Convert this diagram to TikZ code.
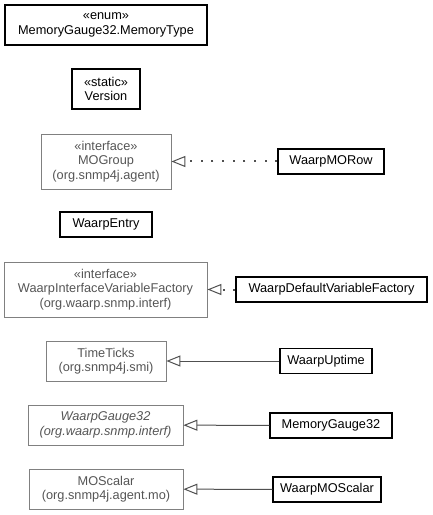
\documentclass[tikz,border=0pt]{standalone}
\usepackage{fontspec}
\setmainfont{Liberation Sans}
\usepackage{xcolor}
\usepackage{tikz}
\usetikzlibrary{arrows.meta,positioning}

\definecolor{extgray}{HTML}{808080}
\definecolor{exttext}{HTML}{555555}
\definecolor{arrgray}{HTML}{505050}

\begin{document}
\begin{tikzpicture}[
  x=1bp, y=-1bp,
  every node/.style={font=\fontsize{12.8}{14.5}\selectfont},
  cls/.style    ={draw=black, line width=1.1bp, inner sep=0pt,
                  align=center, minimum height=25bp},
  ext/.style    ={draw=extgray, line width=0.8bp, inner sep=0pt, text=exttext,
                  align=center, minimum height=40bp},
  impl/.style   ={-{Triangle[open, length=14bp, width=11bp, line width=1bp, sep=0pt]},
                  draw=arrgray, line width=2bp, dash pattern=on 2bp off 8.7bp},
  inh/.style    ={-{Triangle[open, length=14bp, width=11bp, sep=0pt]},
                  draw=arrgray, line width=1bp},
]
  \useasboundingbox (0,0) rectangle (432,515);

  \node[cls, minimum width=202bp, minimum height=40bp] (mtype) at (106,25)
        {«enum»\\MemoryGauge32.MemoryType};
  \node[cls, minimum width=68bp, minimum height=40bp]  (ver)   at (106,89)
        {«static»\\Version};
  \node[ext, minimum width=130bp, minimum height=55bp] (mogrp) at (106,161.5)
        {«interface»\\MOGroup\\(org.snmp4j.agent)};
  \node[cls, minimum width=106bp] (morow)  at (331,161.5) {WaarpMORow};
  \node[cls, minimum width=92bp]  (entry)  at (106,224.5) {WaarpEntry};
  \node[ext, minimum width=203bp, minimum height=55bp] (ifact) at (105.5,289.5)
        {«interface»\\WaarpInterfaceVariableFactory\\(org.waarp.snmp.interf)};
  \node[cls, minimum width=191bp] (dfact)  at (331.5,289.5) {WaarpDefaultVariableFactory};
  \node[ext, minimum width=120bp] (tticks) at (106,361)
        {TimeTicks\\(org.snmp4j.smi)};
  \node[cls, minimum width=92bp]  (uptime) at (326,361) {WaarpUptime};
  \node[ext, minimum width=155bp, font=\fontsize{12.8}{14.5}\selectfont\itshape] (wgauge) at (105.5,425)
        {WaarpGauge32\\(org.waarp.snmp.interf)};
  \node[cls, minimum width=122bp] (mgauge) at (331,425.5) {MemoryGauge32};
  \node[ext, minimum width=154bp] (mosc)   at (106,489)
        {MOScalar\\(org.snmp4j.agent.mo)};
  \node[cls, minimum width=108bp] (wmosc)  at (327,489.5) {WaarpMOScalar};

  \draw[impl] (morow)  -- (mogrp);
  \draw[impl] (dfact)  -- (ifact);
  \draw[inh]  (uptime) -- (tticks);
  \draw[inh]  (mgauge) -- (wgauge);
  \draw[inh]  (wmosc)  -- (mosc);
\end{tikzpicture}
\end{document}
